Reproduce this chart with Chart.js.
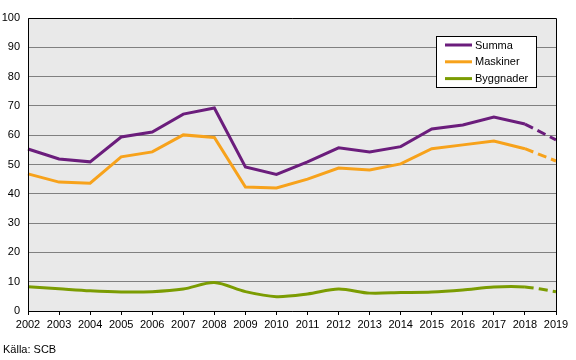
<!DOCTYPE html>
<html>
<head>
<meta charset="utf-8">
<script src="https://cdn.jsdelivr.net/npm/chart.js@4/dist/chart.umd.min.js"></script>
<style>
  html, body { margin: 0; padding: 0; background: #ffffff; }
  #wrap { position: relative; width: 576px; height: 360px; }
  #source { position: absolute; left: 3px; top: 343px; font: 11px "Liberation Sans", Arial, sans-serif; color: #000; }
</style>
</head>
<body>
<div id="wrap">
  <canvas id="c" width="576" height="360"></canvas>
  <div id="source">Källa: SCB</div>
</div>
<script>
const years = ['2002','2003','2004','2005','2006','2007','2008','2009','2010','2011','2012','2013','2014','2015','2016','2017','2018','2019'];
const summa = [55.3, 51.9, 50.9, 59.4, 61.1, 67.2, 69.3, 49.2, 46.6, 50.9, 55.7, 54.3, 56.1, 62.1, 63.5, 66.2, 63.8, 58.4];
const maskiner = [46.8, 44.0, 43.6, 52.6, 54.3, 60.1, 59.2, 42.3, 42.0, 45.0, 48.8, 48.1, 50.2, 55.4, 56.7, 58.0, 55.4, 51.2];
const byggnader = [8.3, 7.6, 6.9, 6.5, 6.6, 7.5, 9.7, 6.6, 4.9, 5.8, 7.5, 6.1, 6.3, 6.5, 7.2, 8.2, 8.2, 6.6];
const seriesNames = ['Summa', 'Maskiner', 'Byggnader'];
const seriesColors = ['#6b1d7c', '#f7a21b', '#7b9c02'];
const yTicks = [0,10,20,30,40,50,60,70,80,90,100];

const FONT = '"Liberation Sans", Arial, sans-serif';
const lastIdx = years.length - 1;
const dashSeg = { borderDash: ctx => ctx.p1DataIndex === lastIdx ? [9, 5] : undefined };

function mk(i, data, tension) {
  return {
    label: seriesNames[i], data, borderColor: seriesColors[i], backgroundColor: seriesColors[i],
    borderWidth: 3, pointRadius: 0, pointHoverRadius: 0, tension, fill: false,
    segment: dashSeg
  };
}

const bgPlugin = {
  id: 'bg',
  beforeDraw(chart) {
    const a = chart.chartArea, c = chart.ctx;
    c.save();
    c.fillStyle = '#e9e9e9';
    c.fillRect(a.left, a.top, a.right - a.left, a.bottom - a.top);
    c.restore();
  },
  afterDatasetsDraw(chart) {
    const a = chart.chartArea, c = chart.ctx;
    c.save();
    c.strokeStyle = '#000';
    c.lineWidth = 1;
    c.beginPath();
    c.moveTo(Math.round(a.left) + 0.5, Math.round(a.bottom));
    c.lineTo(Math.round(a.left) + 0.5, Math.round(a.top) + 0.5);
    c.lineTo(Math.round(a.right) + 0.5, Math.round(a.top) + 0.5);
    c.lineTo(Math.round(a.right) + 0.5, Math.round(a.bottom));
    c.stroke();
    // legend
    const x0 = 436.5, y0 = 36.5, w = 100, h = 51;
    c.fillStyle = '#ffffff';
    c.fillRect(x0, y0, w, h);
    c.strokeRect(x0, y0, w, h);
    c.font = '11px ' + FONT;
    c.textBaseline = 'middle';
    c.textAlign = 'left';
    chart.data.datasets.forEach((ds, i) => {
      const y = 45 + i * 16.8;
      c.strokeStyle = ds.borderColor;
      c.lineWidth = 3;
      c.beginPath();
      c.moveTo(445, y);
      c.lineTo(472, y);
      c.stroke();
      c.fillStyle = '#000';
      c.fillText(ds.label, 475, y + 0.5);
    });
    c.restore();
  }
};

new Chart(document.getElementById('c'), {
  type: 'line',
  data: {
    labels: years,
    datasets: [mk(0, summa, 0), mk(1, maskiner, 0), mk(2, byggnader, 0.3)]
  },
  options: {
    responsive: false,
    animation: false,
    events: [],
    layout: { padding: { top: 18, right: 20, left: 0, bottom: 0 } },
    plugins: { legend: { display: false }, tooltip: { enabled: false } },
    scales: {
      x: {
        type: 'category',
        offset: false,
        afterFit: s => { s.height = 49; },
        border: { display: true, color: '#000', width: 1 },
        grid: { display: true, drawOnChartArea: false, drawTicks: true, tickLength: 4, color: '#000' },
        ticks: { autoSkip: false, maxRotation: 0, color: '#000', font: { family: FONT, size: 11 }, padding: 3 }
      },
      y: {
        min: 0, max: 100,
        afterFit: s => { s.width = 28; },
        afterBuildTicks: s => { s.ticks = yTicks.map(v => ({ value: v })); },
        border: { display: false },
        grid: { color: '#808080', lineWidth: 1, drawTicks: false },
        ticks: { color: '#000', font: { family: FONT, size: 11 }, padding: 8 }
      }
    }
  },
  plugins: [bgPlugin]
});
</script>
</body>
</html>
